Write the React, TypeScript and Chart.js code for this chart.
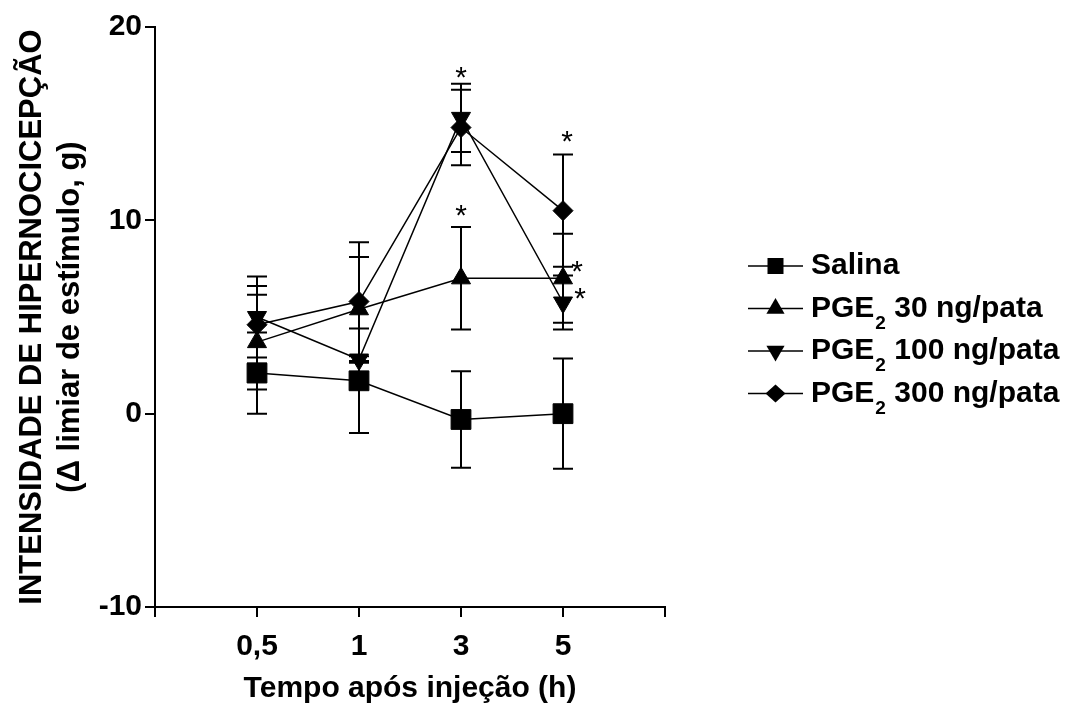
import React, { useEffect, useRef } from "react";
import { Chart, registerables } from "chart.js";

Chart.register(...registerables);

// ---------- data ----------
const categories = ["0,5", "1", "3", "5"];
const xTickLabels = ["", "0,5", "1", "3", "5", ""];

const salina = [2.1, 1.7, -0.3, 0.0];
const salinaErr = [2.1, 2.7, 2.5, 2.85];
const pge30 = [3.7, 5.4, 7.0, 7.0];
const pge30Err = [2.45, 2.7, 2.65, 2.3];
const pge100 = [5.0, 2.8, 15.3, 5.75];
const pge100Err = [2.1, 0.17, 1.77, 1.4];
const pge300 = [4.6, 5.8, 14.8, 10.5];
const pge300Err = [2.0, 3.07, 1.95, 2.9];

const legendMain = ["Salina", "PGE", "PGE", "PGE"];
const legendSub = ["", "2", "2", "2"];
const legendRest = ["", " 30 ng/pata", " 100 ng/pata", " 300 ng/pata"];

// significance marks: x = category position (1-based: 0,5→1, 1→2, 3→3, 5→4), y = value
const starX = [3, 3, 4, 4, 4];
const starY = [17.7, 10.55, 14.4, 7.65, 6.28];

// ---------- styles ----------
const FONT = '"Liberation Sans", Arial, Helvetica, sans-serif';
const starDx = [0, 0, 4, 14, 17];
const markerStyles = ["rect", "triangle", "triangleDown", "rectRot"];

function drawMarker(ctx: CanvasRenderingContext2D, style: string, x: number, y: number) {
  ctx.beginPath();
  if (style === "rect") {
    const h = 8;
    ctx.rect(x - h, y - h, 2 * h, 2 * h);
  } else if (style === "triangle" || style === "triangleDown") {
    const r = 10.5;
    const s = style === "triangle" ? 1 : -1;
    const hx = r * Math.sin((2 * Math.PI) / 3);
    ctx.moveTo(x, y - s * r);
    ctx.lineTo(x + hx, y + s * r / 2);
    ctx.lineTo(x - hx, y + s * r / 2);
    ctx.closePath();
  } else {
    const r = 10;
    ctx.moveTo(x - r, y);
    ctx.lineTo(x, y - r * 0.9);
    ctx.lineTo(x + r, y);
    ctx.lineTo(x, y + r * 0.9);
    ctx.closePath();
  }
  ctx.fillStyle = "#000";
  ctx.fill();
}

const errorBarsPlugin = {
  id: "errorBars",
  beforeDatasetsDraw(chart: any) {
    const ctx = chart.ctx;
    const yScale = chart.scales.y;
    ctx.save();
    ctx.strokeStyle = "#000";
    ctx.lineWidth = 2;
    chart.data.datasets.forEach((ds: any, i: number) => {
      const meta = chart.getDatasetMeta(i);
      meta.data.forEach((pt: any, j: number) => {
        const v = ds.data[j].y;
        const e = ds.errors[j];
        const yTop = yScale.getPixelForValue(v + e);
        const yBot = yScale.getPixelForValue(v - e);
        const x = pt.x;
        ctx.beginPath();
        ctx.moveTo(x, yTop);
        ctx.lineTo(x, yBot);
        ctx.moveTo(x - 10, yTop);
        ctx.lineTo(x + 10, yTop);
        ctx.moveTo(x - 10, yBot);
        ctx.lineTo(x + 10, yBot);
        ctx.stroke();
      });
    });
    ctx.restore();
  },
};

const decorPlugin = {
  id: "decor",
  afterDraw(chart: any) {
    const ctx = chart.ctx;
    const xs = chart.scales.x;
    const ys = chart.scales.y;
    ctx.save();
    // asterisks
    ctx.fillStyle = "#000";
    ctx.textAlign = "center";
    ctx.textBaseline = "middle";
    ctx.font = `30px ${FONT}`;
    starX.forEach((sx, i) => {
      const px = xs.getPixelForValue(sx) + starDx[i];
      const py = ys.getPixelForValue(starY[i]) + 7;
      ctx.fillText("*", px, py);
    });
    // legend
    const lx = 748;
    const lineLen = 55;
    const top = 266;
    const step = 42.5;
    ctx.textAlign = "left";
    chart.data.datasets.forEach((ds: any, i: number) => {
      const y = top + i * step;
      ctx.strokeStyle = "#000";
      ctx.lineWidth = 1.5;
      ctx.beginPath();
      ctx.moveTo(lx, y);
      ctx.lineTo(lx + lineLen, y);
      ctx.stroke();
      drawMarker(ctx, markerStyles[i], lx + lineLen / 2, y);
      let tx = lx + lineLen + 8;
      ctx.font = `bold 30px ${FONT}`;
      ctx.fillText(legendMain[i], tx, y);
      tx += ctx.measureText(legendMain[i]).width;
      if (legendSub[i]) {
        ctx.font = `bold 19px ${FONT}`;
        ctx.fillText(legendSub[i], tx + 1, y + 15);
        tx += ctx.measureText(legendSub[i]).width + 1;
      }
      if (legendRest[i]) {
        ctx.font = `bold 30px ${FONT}`;
        ctx.fillText(legendRest[i], tx, y);
      }
    });
    ctx.restore();
  },
};

function makeDataset(label: string, values: number[], errors: number[], style: string, radius: number, rotation = 0) {
  return {
    label,
    data: values.map((y, i) => ({ x: i + 1, y })),
    errors,
    showLine: true,
    borderColor: "#000",
    backgroundColor: "#000",
    borderWidth: 1.5,
    pointStyle: style,
    pointRadius: radius,
    pointRotation: rotation,
    pointBackgroundColor: "#000",
    pointBorderColor: "#000",
    pointBorderWidth: 1,
    tension: 0,
  };
}

export default function App() {
  const ref = useRef<HTMLCanvasElement | null>(null);
  useEffect(() => {
    if (!ref.current) return;
    const chart = new Chart(ref.current, {
      type: "scatter",
      data: {
        labels: categories,
        datasets: [
          makeDataset("Salina", salina, salinaErr, "rect", 14),
          makeDataset("PGE2 30 ng/pata", pge30, pge30Err, "triangle", 11),
          makeDataset("PGE2 100 ng/pata", pge100, pge100Err, "triangle", 11, 180),
          makeDataset("PGE2 300 ng/pata", pge300, pge300Err, "rectRot", 10),
        ] as any,
      },
      options: {
        responsive: false,
        animation: false,
        events: [],
        layout: { padding: { left: 0, top: 27, right: 401, bottom: 0 } },
        plugins: {
          legend: { display: false },
          tooltip: { enabled: false },
        },
        scales: {
          x: {
            type: "linear",
            min: 0,
            max: 5,
            afterFit: (s: any) => {
              s.height = 97;
            },
            ticks: {
              stepSize: 1,
              color: "#000",
              padding: 12,
              font: { family: FONT, size: 30, weight: "bold" },
              callback: (v: any) => xTickLabels[Math.round(Number(v))] ?? "",
              maxRotation: 0,
              autoSkip: false,
            },
            grid: { drawOnChartArea: false, drawTicks: true, tickLength: 10, color: "#000", lineWidth: 2 },
            border: { color: "#000", width: 2 },
            title: {
              display: true,
              text: "Tempo após injeção (h)",
              color: "#000",
              font: { family: FONT, size: 30, weight: "bold", lineHeight: 1.0 },
              padding: { top: 0, bottom: 0 },
            },
          },
          y: {
            type: "linear",
            min: -10,
            max: 20,
            afterFit: (s: any) => {
              s.width = 155;
            },
            ticks: {
              stepSize: 10,
              color: "#000",
              padding: 3,
              font: { family: FONT, size: 30, weight: "bold" },
              callback: (v: any) => String(v),
            },
            grid: { drawOnChartArea: false, drawTicks: true, tickLength: 10, color: "#000", lineWidth: 2 },
            border: { color: "#000", width: 2 },
            title: {
              display: true,
              text: ["INTENSIDADE DE HIPERNOCICEPÇÃO", "(Δ limiar de estímulo, g)"],
              color: "#000",
              font: { family: FONT, size: 31, weight: "bold", lineHeight: 1.23 },
              padding: { top: 13, bottom: 0 },
            },
          },
        },
      } as any,
      plugins: [errorBarsPlugin, decorPlugin],
    });
    return () => chart.destroy();
  }, []);

  return (
    <div style={{ position: "absolute", left: 0, top: 0, width: 1066, height: 704, background: "#fff" }}>
      <canvas ref={ref} width={1066} height={704} style={{ display: "block" }} />
    </div>
  );
}
